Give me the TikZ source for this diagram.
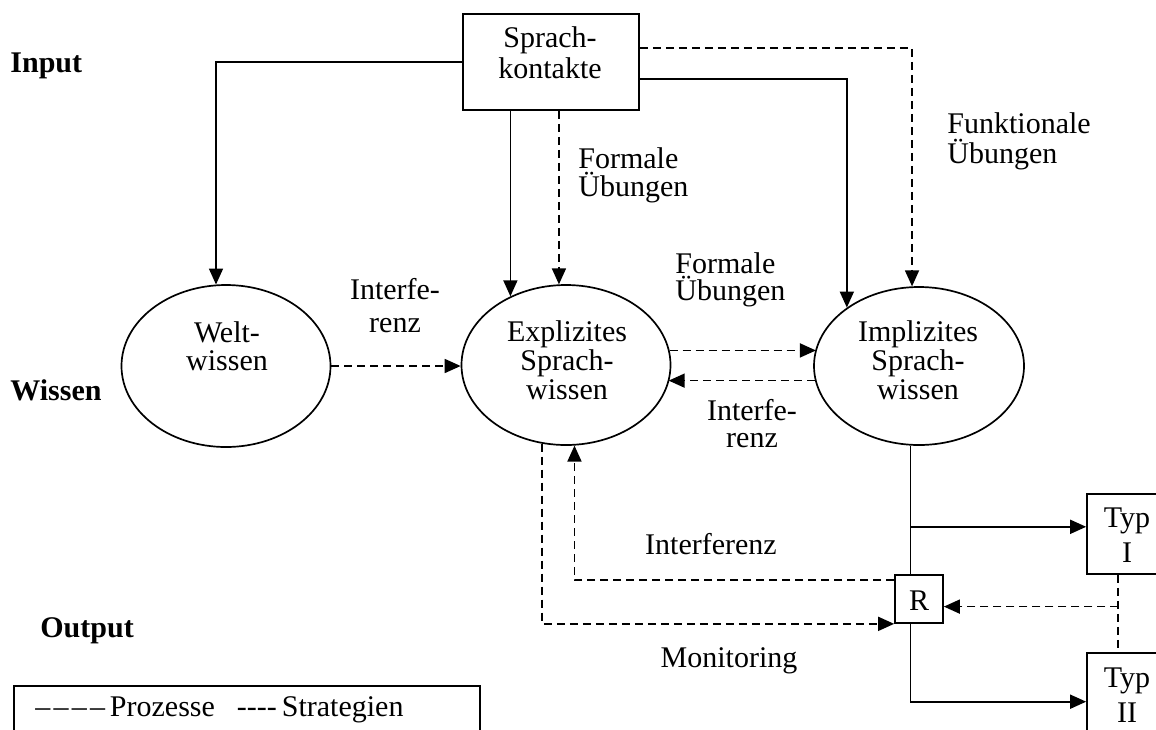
\documentclass[tikz,border=0pt]{standalone}
\usepackage{fontspec}
\setmainfont{Liberation Serif}
\usetikzlibrary{arrows.meta,shapes.geometric}

% stacked lines whose baseline is the first line; optional arg = line pitch
\newcommand\ctext[2][14.5pt]{\vtop{\baselineskip=#1\relax\lineskiplimit=-20pt\halign{\hfil##\hfil\cr#2\crcr}}}
\newcommand\ltext[2][14.5pt]{\vtop{\baselineskip=#1\relax\lineskiplimit=-20pt\halign{##\hfil\cr#2\crcr}}}
\newcommand\legdash{\textendash\kern1.6pt}

\tikzset{
  every node/.style={font=\fontsize{15pt}{14.5pt}\selectfont, inner sep=0pt},
  lbl/.style={anchor=base},
  lbll/.style={anchor=base west},
  head/.style={anchor=base west, font=\fontsize{15pt}{14.5pt}\selectfont\bfseries},
  blob/.style={draw, ellipse, line width=0.85pt, inner sep=0pt},
  box/.style={draw, rectangle, line width=0.85pt},
  conn/.style={line width=0.85pt},
  dsh/.style={line width=0.85pt, dash pattern=on 4pt off 2.5pt},
  tip/.style={-{Triangle[length=8pt,width=7pt]}},
}

\begin{document}
\begin{tikzpicture}[x=0.5pt, y=-0.5pt]
\useasboundingbox (0,0) rectangle (1156,729);
\clip (0,0) rectangle (1156,729);

% level headings
\node[head] (inp) at (10,72) {Input};
\node[head] (wis) at (10,400) {Wissen};
\node[head] (outp) at (40,637) {Output};

% boxes and knowledge ellipses
\node[box, minimum width=88pt, minimum height=48pt] (sk) at (551,62) {};
\node[lbl] (skT) at (550,47) {\ctext[15.8pt]{Sprach-\cr kontakte}};

\node[blob, minimum width=104.5pt, minimum height=81pt] (welt) at (226,366) {};
\node[lbl] (weltT) at (227,342) {\ctext[14pt]{Welt-\cr wissen}};

\node[blob, minimum width=104.5pt, minimum height=80pt] (expl) at (566,365) {};
\node[lbl] (explT) at (567,341) {\ctext{Explizites\cr Sprach-\cr wissen}};

\node[blob, minimum width=105pt, minimum height=79pt] (impl) at (919,366) {};
\node[lbl] (implT) at (918,341) {\ctext{Implizites\cr Sprach-\cr wissen}};

\node[box, minimum size=24pt] (R) at (919,599) {};
\node[lbl] (RT) at (919,610) {R};

\node[box, minimum width=40pt, minimum height=40pt] (typ1) at (1127,534) {};
\node[lbl] (typ1T) at (1127,527) {\ctext[17.5pt]{Typ\cr I}};
\node[box, minimum width=40pt, minimum height=40pt] (typ2) at (1127,693) {};
\node[lbl] (typ2T) at (1127,687) {\ctext[17.5pt]{Typ\cr II}};

% connector labels
\node[lbll] (fo1) at (578,168) {\ltext[14pt]{Formale\cr Übungen}};
\node[lbll] (fu) at (947,133) {\ltext[15pt]{Funktionale\cr Übungen}};
\node[lbll] (fo2) at (675,273) {\ltext[13.7pt]{Formale\cr Übungen}};
\node[lbl] (if1) at (395,299) {\ctext[16.5pt]{Interfe-\cr renz}};
\node[lbl] (if2) at (752,420) {\ctext[13.8pt]{Interfe-\cr renz}};
\node[lbl] (if3) at (711,554) {Interferenz};
\node[lbl] (mon) at (729,667) {Monitoring};

% legend
\node[box, anchor=north west, minimum width=233pt, minimum height=40pt] (leg) at (13,685) {};
\node[lbll] (legT) at (35,716) {\legdash\legdash\legdash\textendash\,Prozesse\hspace{11pt}{-}{-}{-}{-}\,Strategien};

% input connections
\draw[conn,tip] (sk.west) -| (welt.97.8);
\draw[conn,tip] (expl.129 |- sk.south) -- (expl.129);
\draw[dsh,tip] (expl.95 |- sk.south) -- (expl.95);
\draw[dsh,tip] (sk.9.7) -| (impl.95.8);
\draw[conn,tip] (sk.349.7) -| (impl.141.4);

% between the kinds of knowledge
\draw[dsh,tip] (welt.east) -- (welt.east -| expl.west);
\draw[dsh,tip] (expl.8.9) -- (expl.8.9 -| impl.170.6);
\draw[dsh,tip] (impl.188.9) -- (impl.188.9 -| expl.350.5);

% output side
\draw[dsh,tip] (R.143.1) -| (expl.276.5);
\draw[dsh,tip] (expl.253.6) |- (R.south west);
\draw[conn] (impl.264.2) -- (impl.264.2 |- R.north);
\coordinate (j1) at (impl.264.2 |- typ1.170.1);
\draw[conn,tip] (j1) -- (typ1.170.1);
\draw[conn,tip] (R.south -| impl.264.2) |- (typ2.192.7);
\draw[dsh] (typ1.258.7) -- (typ1.258.7 |- typ2.north);
\draw[dsh,tip] (R.343.7 -| typ1.258.7) -- (R.343.7);
\end{tikzpicture}
\end{document}
